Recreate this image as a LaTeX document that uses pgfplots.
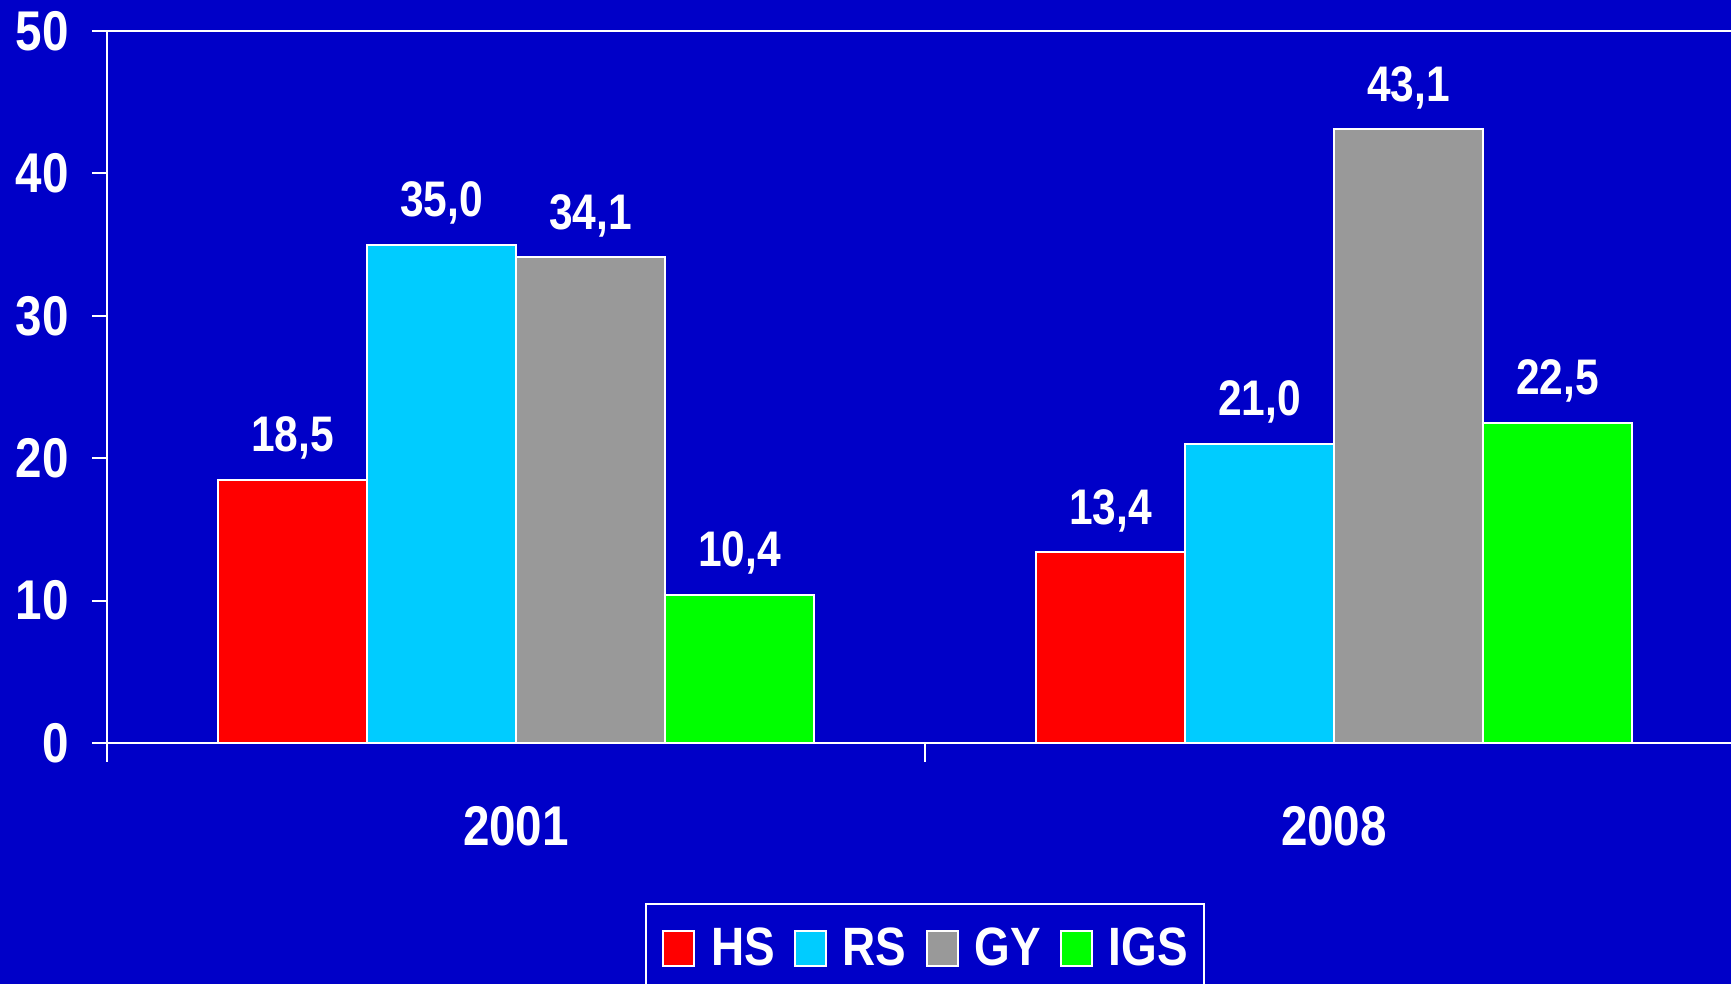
\documentclass[border=0pt]{standalone}
\usepackage{fontspec}
\setmainfont{Liberation Sans}[FakeStretch=0.85]
\usepackage{pgfplots}
\pgfplotsset{compat=1.18}
\definecolor{bg}{RGB}{0,0,200}
\definecolor{hs}{RGB}{255,0,0}
\definecolor{rs}{RGB}{0,204,255}
\definecolor{gy}{RGB}{153,153,153}
\definecolor{igs}{RGB}{0,255,0}
\pgfplotsset{sq/.style={legend image code/.code={\draw[##1,draw=white,line width=1pt] (0pt,-8.75pt) rectangle (15.5pt,8.75pt);}}}
\begin{document}
\begin{tikzpicture}
\fill[bg] (-53.5pt,-120.5pt) rectangle (812pt,371.5pt);
\clip (-53.5pt,-120.5pt) rectangle (812pt,371.5pt);
\begin{axis}[at={(0,0)}, anchor=south west, scale only axis, width=818pt, height=356pt,
 xmin=0.5, xmax=2.5, ymin=0, ymax=50,
 ybar=0pt, bar width=74.5pt,
 axis line style={white, line width=1pt},
 xtick={1,2}, xticklabels={2001,2008}, minor xtick={0.5,1.5,2.5},
 major x tick style={draw=none}, minor x tick style={white, line width=1pt},
 minor tick length=9.5pt,
 ytick={0,10,...,50}, ytick style={white, line width=1pt}, major tick length=7.5pt,
 tick align=outside, xtick pos=left, ytick pos=left,
 ticklabel style={font=\bfseries\fontsize{28}{30}\selectfont, text=white},
 xticklabel style={anchor=base, yshift=-44pt},
 yticklabel style={anchor=east, inner sep=0pt, xshift=-11.5pt},
 /pgf/number format/assume math mode=true,
 nodes near coords={\pgfmathprintnumber[fixed,fixed zerofill,precision=1,use comma]{\pgfplotspointmeta}},
 nodes near coords style={anchor=base, yshift=14pt, text=white, font=\bfseries\fontsize{25}{27}\selectfont, inner sep=0pt},
 legend columns=-1,
 legend style={at={(0.5,-0.2247)}, anchor=north, draw=white, line width=1pt, fill=bg, text=white,
   font=\bfseries\fontsize{27}{29}\selectfont, inner xsep=8pt, inner ysep=12pt,
   nodes={inner sep=0pt},
   /tikz/every odd column/.append style={column sep=8pt},
   /tikz/every even column/.append style={column sep=9.5pt}},
]
\addplot[fill=hs, draw=white, line width=1pt, sq] coordinates {(1,18.5) (2,13.4)};
\addplot[fill=rs, draw=white, line width=1pt, sq] coordinates {(1,35.0) (2,21.0)};
\addplot[fill=gy, draw=white, line width=1pt, sq] coordinates {(1,34.1) (2,43.1)};
\addplot[fill=igs, draw=white, line width=1pt, sq] coordinates {(1,10.4) (2,22.5)};
\legend{HS,RS,GY,IGS}
\end{axis}
\end{tikzpicture}
\end{document}
